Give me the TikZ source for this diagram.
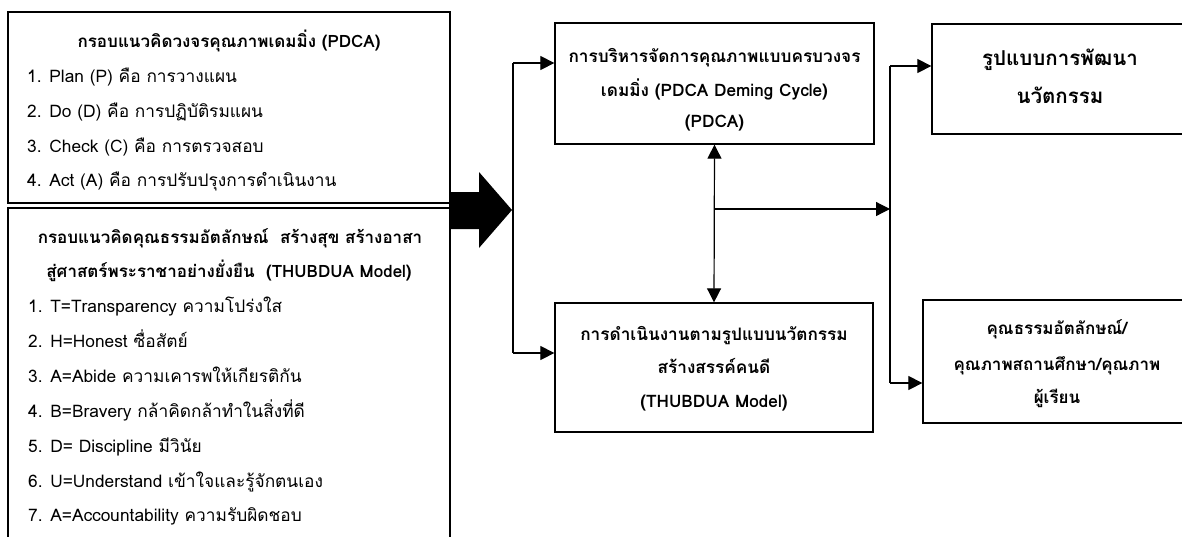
\documentclass[tikz,border=0pt]{standalone}
\usepackage{fontspec}
\newfontfamily\thai[Script=Thai]{Loma}
\usetikzlibrary{arrows.meta}
\begin{document}
\begin{tikzpicture}[x=1pt,y=-1pt,
  box/.style={draw, line width=1.3pt, inner sep=0pt},
  ln/.style={line width=1.2pt},
  arr/.style={line width=1.2pt, -{Triangle[length=14pt,width=14pt]}},
  darr/.style={line width=1.2pt, {Triangle[length=14pt,width=14pt]}-{Triangle[length=14pt,width=14pt]}},
  lt/.style={anchor=base west, inner sep=0pt, font=\thai\fontsize{17.3}{20}\selectfont},
  ht/.style={anchor=base, inner sep=0pt, font=\thai\bfseries\fontsize{17}{19}\selectfont},
  ct/.style={anchor=base, inner sep=0pt, font=\thai\bfseries\fontsize{17.2}{19}\selectfont},
  rt/.style={anchor=base, inner sep=0pt, font=\thai\bfseries\fontsize{17}{19}\selectfont},
  bt/.style={anchor=base, inner sep=0pt, font=\thai\bfseries\fontsize{20.5}{23}\selectfont}]
\useasboundingbox (0,0) rectangle (1182,536);
\fill[white] (0,0) rectangle (1182,536);
\clip (0,0) rectangle (1182,536);

% left boxes
\node[box, minimum width=442pt, minimum height=191pt] (ltop) at (229,107.5) {};
\node[box, minimum width=442pt, minimum height=352pt] (lbot) at (229,384) {};

\node[ht] (lt0) at (229,47) {กรอบแนวคิดวงจรคุณภาพเดมมิ่ง (PDCA)};
\node[lt] (lt1) at (27,82) {1. Plan (P) คือ การวางแผน};
\node[lt] (lt2) at (27,117) {2. Do (D) คือ การปฏิบัติรมแผน};
\node[lt] (lt3) at (27,152) {3. Check (C) คือ การตรวจสอบ};
\node[lt] (lt4) at (27,186) {4. Act (A) คือ การปรับปรุงการดำเนินงาน};

\node[ht] (lb0) at (230,243) {กรอบแนวคิดคุณธรรมอัตลักษณ์~~สร้างสุข สร้างอาสา};
\node[ht] (lb00) at (229,277) {สู่ศาสตร์พระราชาอย่างยั่งยืน~~(THUBDUA Model)};
\node[lt] (lb1) at (28,312) {1. T=Transparency ความโปร่งใส};
\node[lt] (lb2) at (28,347) {2. H=Honest ซื่อสัตย์};
\node[lt] (lb3) at (28,382) {3. A=Abide ความเคารพให้เกียรติกัน};
\node[lt] (lb4) at (28,417) {4. B=Bravery กล้าคิดกล้าทำในสิ่งที่ดี};
\node[lt] (lb5) at (28,452) {5. D= Discipline มีวินัย};
\node[lt] (lb6) at (28,487) {6. U=Understand เข้าใจและรู้จักตนเอง};
\node[lt] (lb7) at (28,521) {7. A=Accountability ความรับผิดชอบ};

% big block arrow
\fill (449,192) -- (479,192) -- (479,172) -- (512,210) -- (479,248) -- (479,229) -- (449,229) -- cycle;

% middle boxes
\node[box, minimum width=319pt, minimum height=121pt] (m1) at (714.5,83.5) {};
\node[ct] (m1a) at (714.5,62) {การบริหารจัดการคุณภาพแบบครบวงจร};
\node[ct] (m1b) at (714.5,96) {เดมมิ่ง (PDCA Deming Cycle)};
\node[ct] (m1c) at (714.5,127) {(PDCA)};

\node[box, minimum width=318pt, minimum height=129pt] (m2) at (714,367.5) {};
\node[ct] (m2a) at (714,340) {การดำเนินงานตามรูปแบบนวัตกรรม};
\node[ct] (m2b) at (714,373) {สร้างสรรค์คนดี};
\node[ct] (m2c) at (714,407) {(THUBDUA Model)};

% right boxes
\node[box, minimum width=256pt, minimum height=110pt] (r1) at (1060,79) {};
\node[bt] (r1a) at (1060,65) {รูปแบบการพัฒนา};
\node[bt] (r1b) at (1060,103) {นวัตกรรม};

\node[box, minimum width=268pt, minimum height=123pt] (r2) at (1057,361.5) {};
\node[rt] (r2a) at (1057,334) {คุณธรรมอัตลักษณ์/};
\node[rt] (r2b) at (1057,370) {คุณภาพสถานศึกษา/คุณภาพ};
\node[rt] (r2c) at (1057,403) {ผู้เรียน};

% connectors
\coordinate (ja) at (513,63);
\coordinate (jb) at (513,353);
\draw[ln] (ja) -- (jb);
\draw[arr] (ja) -- (ja -| m1.west);
\draw[arr] (jb) -- (jb -| m2.west);
\draw[darr] (m1.south) -- (m2.north);
\coordinate (jc) at (714.5,209);
\coordinate (jd) at (890,209);
\draw[arr] (jc) -- (jd);
\coordinate (je) at (890,66);
\coordinate (jf) at (890,383);
\draw[ln] (je) -- (jf);
\draw[arr] (je) -- (je -| r1.west);
\draw[arr] (jf) -- (jf -| r2.west);
\end{tikzpicture}
\end{document}
